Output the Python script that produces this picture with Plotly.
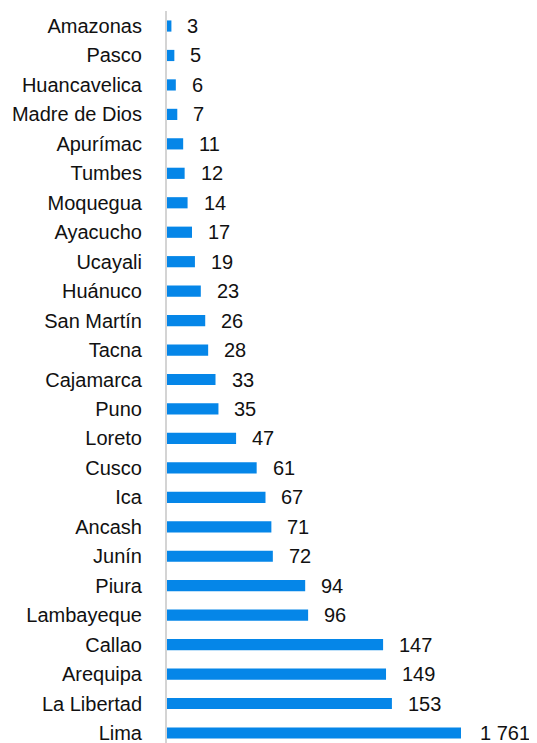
import plotly.graph_objects as go

regions = ["Amazonas", "Pasco", "Huancavelica", "Madre de Dios", "Apurímac", "Tumbes",
           "Moquegua", "Ayacucho", "Ucayali", "Huánuco", "San Martín", "Tacna",
           "Cajamarca", "Puno", "Loreto", "Cusco", "Ica", "Ancash", "Junín", "Piura",
           "Lambayeque", "Callao", "Arequipa", "La Libertad", "Lima"]
values = [3, 5, 6, 7, 11, 12, 14, 17, 19, 23, 26, 28, 33, 35, 47, 61, 67, 71, 72, 94,
          96, 147, 149, 153, 1761]
labels = ["3", "5", "6", "7", "11", "12", "14", "17", "19", "23", "26", "28", "33", "35",
          "47", "61", "67", "71", "72", "94", "96", "147", "149", "153", "1 761"]

CAP = 200  # broken-axis display cap for the outlier
display = [min(v, CAP) for v in values]

FONT = "Liberation Sans, Arial, sans-serif"
FS = 20

fig = go.Figure(go.Bar(
    x=display, y=regions, orientation="h",
    marker=dict(color="#0586E8", line=dict(width=0)),
    width=0.38, hoverinfo="skip",
))

annotations = []
for r, d, v, lab in zip(regions, display, values, labels):
    annotations.append(dict(
        x=d, y=r, xref="x", yref="y", text=lab, showarrow=False,
        xanchor="left", yanchor="middle", xshift=17 if v > CAP else 14, yshift=0,
        font=dict(family=FONT, size=FS, color="#111111"),
    ))

# page body has an 8px default margin: figure occupies 8..537 x 8..743
fig.update_layout(
    width=529, height=735,
    margin=dict(l=159, r=0, t=3, b=0, autoexpand=False),
    paper_bgcolor="white", plot_bgcolor="white",
    showlegend=False,
    annotations=annotations,
    xaxis=dict(range=[0, 251.7], visible=False, fixedrange=True),
    yaxis=dict(
        categoryorder="array", categoryarray=regions,
        range=[24.34, -0.51], automargin=False,
        showline=True, linecolor="#D4D4D4", linewidth=2,
        showgrid=False, zeroline=False, ticks="",
        ticklabelstandoff=19,
        tickfont=dict(family=FONT, size=FS, color="#111111"),
    ),
)

fig.write_html("out.html")
